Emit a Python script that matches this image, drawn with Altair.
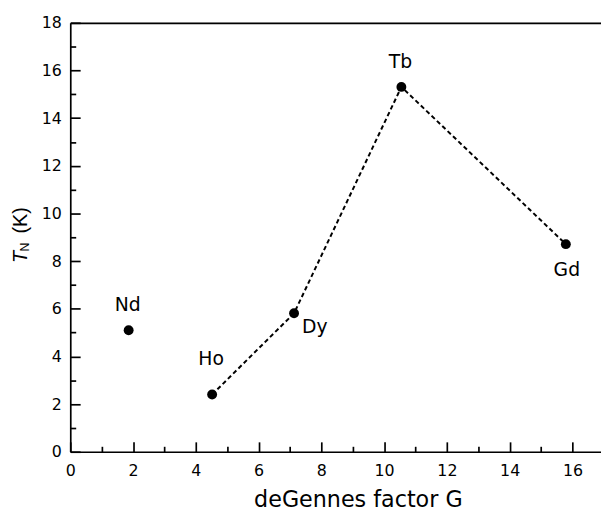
import altair as alt
import pandas as pd

# ---- data ----
elements = ["Nd", "Ho", "Dy", "Tb", "Gd"]
g_factor = [1.86, 4.52, 7.13, 10.55, 15.79]
t_neel = [5.10, 2.40, 5.81, 15.31, 8.71]
connected = [False, True, True, True, True]

x_major = [0, 2, 4, 6, 8, 10, 12, 14, 16]
x_minor = [1, 3, 5, 7, 9, 11, 13, 15]
y_major = [0, 2, 4, 6, 8, 10, 12, 14, 16, 18]
y_minor = [1, 3, 5, 7, 9, 11, 13, 15, 17]

df = pd.DataFrame({"el": elements, "G": g_factor, "TN": t_neel, "conn": connected})

FONT = "DejaVu Sans"
W, H = 537, 434
xscale = alt.Scale(domain=[0, 16.91], nice=False, zero=False)
yscale = alt.Scale(domain=[0, 18], nice=False, zero=False)

base = alt.Chart(df)


def ax(orient, values=None, **kw):
    opts = dict(orient=orient, grid=False, title=None, labels=False, ticks=False,
                domain=False, domainColor="black", domainWidth=1.7,
                tickColor="black", tickWidth=1.7)
    if values is not None:
        opts["values"] = values
    opts.update(kw)
    return alt.Axis(**opts)


# main axes: domain lines, labels and x title
main_x = ax("bottom", x_major, labels=True, domain=True, labelFont=FONT, labelFontSize=16,
            labelColor="black", labelPadding=11, labelFlush=False,
            title="deGennes factor G", titleFont=FONT, titleFontSize=22.5,
            titleFontWeight="normal", titleColor="black", titleX=291, titleY=55,
            titleBaseline="alphabetic", titleAlign="center")
main_y = ax("left", y_major, labels=True, domain=True, labelFont=FONT, labelFontSize=16,
            labelColor="black", labelPadding=9, labelFlush=False)

line = base.transform_filter("datum.conn").mark_line(
    color="black", strokeWidth=2, strokeDash=[4.5, 3]
).encode(
    x=alt.X("G:Q", scale=xscale, axis=main_x),
    y=alt.Y("TN:Q", scale=yscale, axis=main_y),
    order="G:Q",
)

points = base.mark_circle(size=100, color="black", opacity=1).encode(
    x=alt.X("G:Q", scale=xscale,
            axis=ax("bottom", x_major, ticks=True, tickSize=alt.ExprRef("-10"))),
    y=alt.Y("TN:Q", scale=yscale,
            axis=ax("left", y_major, ticks=True, tickSize=alt.ExprRef("-10"))),
)

minor = base.mark_circle(size=1, opacity=0).encode(
    x=alt.X("G:Q", scale=xscale,
            axis=ax("bottom", x_minor, ticks=True, tickSize=alt.ExprRef("-5.5"))),
    y=alt.Y("TN:Q", scale=yscale,
            axis=ax("left", y_minor, ticks=True, tickSize=alt.ExprRef("-5.5"))),
)

top = base.mark_circle(size=1, opacity=0).encode(
    x=alt.X("G:Q", scale=xscale, axis=ax("top", x_major, domain=True)),
    y=alt.Y("TN:Q", scale=yscale, axis=None),
)

# point labels, grouped by placement
placements = [
    (["Nd", "Tb"], -1, -25),
    (["Ho"], -1, -36),
    (["Dy"], 21, 14),
    (["Gd"], 1, 26),
]
label_layers = []
for names, dx, dy in placements:
    label_layers.append(
        base.transform_filter(alt.FieldOneOfPredicate(field="el", oneOf=names))
        .mark_text(font=FONT, fontSize=19, color="black", dx=dx, dy=dy,
                   align="center", baseline="middle")
        .encode(x=alt.X("G:Q", scale=xscale, axis=None),
                y=alt.Y("TN:Q", scale=yscale, axis=None),
                text="el:N")
    )

# y-axis title: italic T with subscript N, then (K)
ytitle_data = alt.Data(values=[{"k": 1}])
ytitle_parts = [
    ("T", -44, 237, 20, "italic"),
    ("N", -41.5, 227, 12.5, "normal"),
    ("(K)", -44, 200, 20, "normal"),
]
ytitle_layers = [
    alt.Chart(ytitle_data).mark_text(
        font="Liberation Sans", fontSize=fs, fontStyle=st, color="black",
        angle=270, align="center", baseline="alphabetic"
    ).encode(x=alt.value(px), y=alt.value(py), text=alt.value(t))
    for t, px, py, fs, st in ytitle_parts
]

chart = alt.layer(line, points, minor, top, *label_layers, *ytitle_layers).resolve_axis(
    x="independent", y="independent"
).properties(
    width=W, height=H,
    autosize=alt.AutoSizeParams(type="none"),
    padding={"left": 63, "top": 12, "right": 0, "bottom": 58},
).configure_view(stroke=None).configure(background="white")

chart.save("out.html", embed_options={"renderer": "svg", "actions": False})
